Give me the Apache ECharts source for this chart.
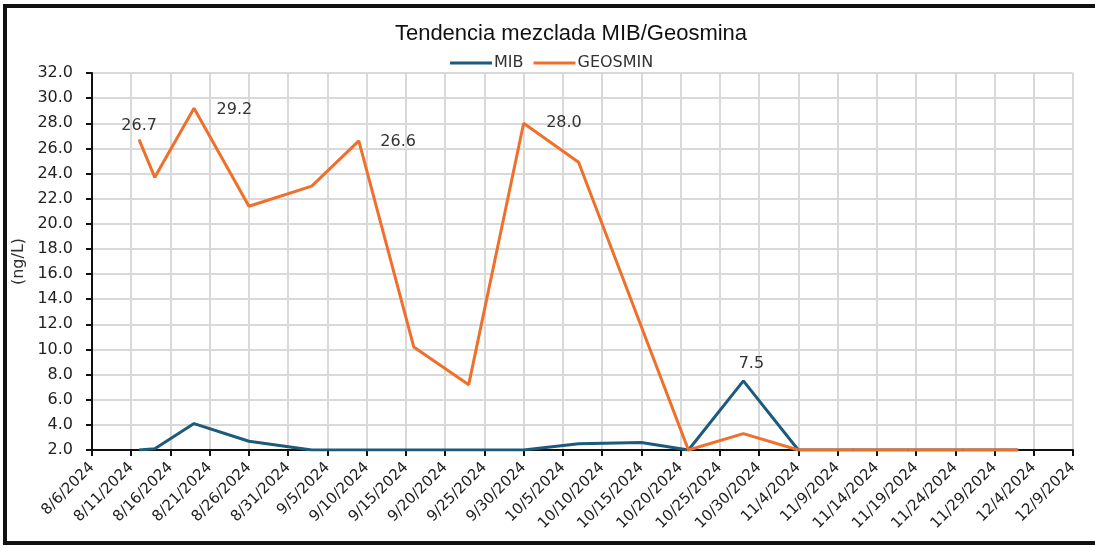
<!DOCTYPE html>
<html>
<head>
<meta charset="utf-8">
<script src="https://cdn.jsdelivr.net/npm/echarts@6/dist/echarts.min.js"></script>
<style>
  html, body { margin: 0; padding: 0; background: #fff; }
  #chart { width: 1095px; height: 548px; }
</style>
</head>
<body>
<div id="chart"></div>
<script>
    // fechas de muestreo y concentraciones (ng/L)
    var mibDates = ['2024-08-12', '2024-08-14', '2024-08-19', '2024-08-26', '2024-09-03', '2024-09-09',
        '2024-09-16', '2024-09-23', '2024-09-30', '2024-10-07', '2024-10-15', '2024-10-21',
        '2024-10-28', '2024-11-04', '2024-11-11', '2024-11-18', '2024-11-25', '2024-12-02'];
    var mibValues = [2.0, 2.1, 4.1, 2.7, 2.0, 2.0, 2.0, 2.0, 2.0, 2.5, 2.6, 2.0, 7.5, 2.0, 2.0, 2.0, 2.0, 2.0];

    var geoDates = ['2024-08-12', '2024-08-14', '2024-08-19', '2024-08-26', '2024-09-03', '2024-09-09',
        '2024-09-16', '2024-09-23', '2024-09-30', '2024-10-07', '2024-10-21', '2024-10-28',
        '2024-11-04', '2024-11-11', '2024-11-18', '2024-11-25', '2024-12-02'];
    var geoValues = [26.7, 23.7, 29.2, 21.4, 23.0, 26.6, 10.2, 7.2, 28.0, 24.9, 2.0, 3.3, 2.0, 2.0, 2.0, 2.0, 2.0];

    // puntos con etiqueta
    var mibLabelled = ['2024-10-28'];
    var geoLabelled = ['2024-08-12', '2024-08-19', '2024-09-09', '2024-09-30'];

    var startDate = '2024-08-06';
    var endDate = '2024-12-09';

    var DAY = 86400000;
    var t0 = Date.parse(startDate);
    function dayOf(s) { return Math.round((Date.parse(s) - t0) / DAY); }
    function fmtDay(d) {
        var dt = new Date(t0 + d * DAY);
        return (dt.getUTCMonth() + 1) + '/' + dt.getUTCDate() + '/' + dt.getUTCFullYear();
    }

    var labelStyles = {
        '2024-08-12': { position: 'top', offset: [0, 0] },
        '2024-08-19': { position: 'right', offset: [17, 2] },
        '2024-09-09': { position: 'right', offset: [16, 1] },
        '2024-09-30': { position: 'right', offset: [17, 0] },
        '2024-10-28': { position: 'top', offset: [8, -4] }
    };

    function buildData(dates, values, labelled) {
        return dates.map(function (d, i) {
            var item = { value: [dayOf(d), values[i]] };
            if (labelled.indexOf(d) >= 0) {
                var ls = labelStyles[d];
                item.label = {
                    show: true,
                    position: ls.position,
                    offset: ls.offset,
                    formatter: values[i].toFixed(1),
                    fontFamily: 'DejaVu Sans',
                    fontSize: 16,
                    color: '#333'
                };
            }
            return item;
        });
    }

    var chart = echarts.init(document.getElementById('chart'));
    chart.setOption({
        animation: false,
        title: {
            text: 'Tendencia mezclada MIB/Geosmina',
            left: 566,
            textAlign: 'center',
            top: 18,
            textStyle: { fontFamily: 'Liberation Sans', fontSize: 22, fontWeight: 'normal', color: '#111' }
        },
        legend: {
            top: 50,
            left: 445,
            icon: 'rect',
            itemWidth: 42,
            itemHeight: 3,
            itemGap: 10,
            textStyle: { fontFamily: 'DejaVu Sans', fontSize: 16, color: '#333', padding: [0, 0, 0, -3] },
            data: ['MIB', 'GEOSMIN']
        },
        // marco: izquierda, arriba y abajo (la derecha queda fuera de la imagen)
        graphic: [{
            type: 'polyline',
            shape: { points: [[1200, 6], [5, 6], [5, 543], [1200, 543]] },
            style: { fill: null, stroke: '#111', lineWidth: 4 },
            silent: true
        }],
        grid: { left: 92, right: 22, top: 73, bottom: 98 },
        xAxis: {
            type: 'value',
            min: 0,
            max: dayOf(endDate),
            interval: 5,
            axisLine: { lineStyle: { color: '#111', width: 2 } },
            axisTick: { show: true, length: 6, lineStyle: { color: '#111', width: 2 } },
            splitLine: { show: true, lineStyle: { color: '#d9d9d9', width: 2 } },
            axisLabel: {
                rotate: 45,
                margin: 15,
                fontFamily: 'DejaVu Sans',
                fontSize: 15,
                color: '#222',
                formatter: function (v) { return fmtDay(v); }
            }
        },
        yAxis: {
            type: 'value',
            min: 2,
            max: 32,
            interval: 2,
            name: '(ng/L)',
            nameLocation: 'middle',
            nameRotate: 90,
            nameGap: 54,
            nameTextStyle: { fontFamily: 'DejaVu Sans', fontSize: 16, color: '#333' },
            axisLine: { show: true, lineStyle: { color: '#111', width: 2 } },
            axisTick: { show: true, length: 6, lineStyle: { color: '#111', width: 2 } },
            splitLine: { show: true, lineStyle: { color: '#d9d9d9', width: 2 } },
            axisLabel: {
                margin: 19,
                fontFamily: 'DejaVu Sans',
                fontSize: 16,
                color: '#222',
                formatter: function (v) { return v.toFixed(1); }
            }
        },
        series: [
            {
                name: 'MIB',
                type: 'line',
                symbol: 'circle',
                symbolSize: 1,
                showAllSymbol: true,
                color: '#1d5b7c',
                lineStyle: { width: 3 },
                data: buildData(mibDates, mibValues, mibLabelled)
            },
            {
                name: 'GEOSMIN',
                type: 'line',
                symbol: 'circle',
                symbolSize: 1,
                showAllSymbol: true,
                color: '#ef6f2b',
                lineStyle: { width: 3 },
                data: buildData(geoDates, geoValues, geoLabelled)
            }
        ]
    });
</script>
</body>
</html>
